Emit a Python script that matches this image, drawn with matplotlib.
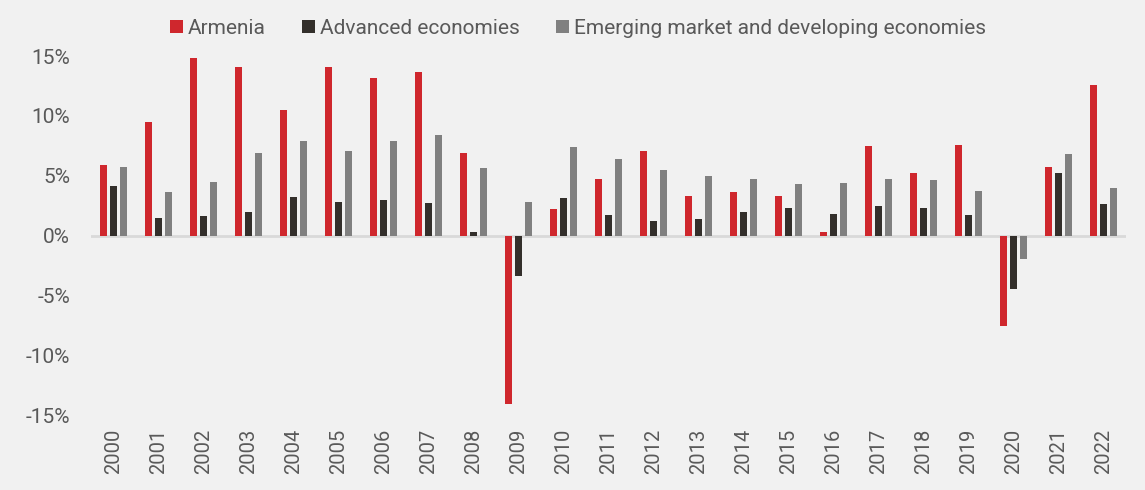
import numpy as np
import matplotlib.pyplot as plt

plt.rcParams['font.family'] = ['Roboto', 'DejaVu Sans']

years = [str(y) for y in range(2000, 2023)]
armenia = [5.9, 9.5, 14.8, 14.1, 10.5, 14.1, 13.2, 13.7, 6.9, -14.1, 2.2, 4.7,
           7.1, 3.3, 3.6, 3.3, 0.3, 7.5, 5.2, 7.6, -7.6, 5.7, 12.6]
advanced = [4.1, 1.5, 1.6, 2.0, 3.2, 2.8, 3.0, 2.7, 0.3, -3.4, 3.1, 1.7,
            1.2, 1.4, 2.0, 2.3, 1.8, 2.5, 2.3, 1.7, -4.5, 5.2, 2.6]
emerging = [5.7, 3.6, 4.5, 6.9, 7.9, 7.1, 7.9, 8.4, 5.6, 2.8, 7.4, 6.4,
            5.5, 5.0, 4.7, 4.3, 4.4, 4.7, 4.6, 3.7, -2.0, 6.8, 4.0]
series_names = ['Armenia', 'Advanced economies', 'Emerging market and developing economies']
colors = ['#cf272d', '#332f2b', '#808080']

bg = '#f1f1f1'
text_color = '#595959'

fig = plt.figure(figsize=(11.45, 4.9), dpi=100, facecolor=bg)
ax = fig.add_axes([91 / 1145, 1 - 415 / 490, (1126 - 91) / 1145, (415 - 56) / 490])
ax.set_facecolor(bg)

x = np.arange(len(years))
width = 0.167
step = 0.222
for i, (vals, name, c) in enumerate(zip([armenia, advanced, emerging], series_names, colors)):
    ax.bar(x + (i - 1) * step, vals, width=width, color=c, label=name, zorder=3)

ax.axhline(0, color='#d9d9d9', linewidth=2, zorder=2)

ax.set_xlim(-0.5, len(years) - 0.5)
ax.set_ylim(-15, 15)
ax.set_yticks([-15, -10, -5, 0, 5, 10, 15])
ax.set_yticklabels([f'{v}%' for v in [-15, -10, -5, 0, 5, 10, 15]])
ax.set_xticks(x)
ax.set_xticklabels(years, rotation=90)
ax.tick_params(axis='y', length=0, pad=15, labelsize=15, labelcolor=text_color)
ax.tick_params(axis='x', length=0, pad=10, labelsize=14.5, labelcolor=text_color)
for s in ax.spines.values():
    s.set_visible(False)

fig.legend(loc='upper center', bbox_to_anchor=(0.505, 1.0), ncol=3, frameon=False,
           fontsize=15, labelcolor=text_color, handlelength=0.6, handleheight=0.6,
           handletextpad=0.25, columnspacing=1.75)

fig.savefig('out.png', dpi=100, facecolor=bg)
